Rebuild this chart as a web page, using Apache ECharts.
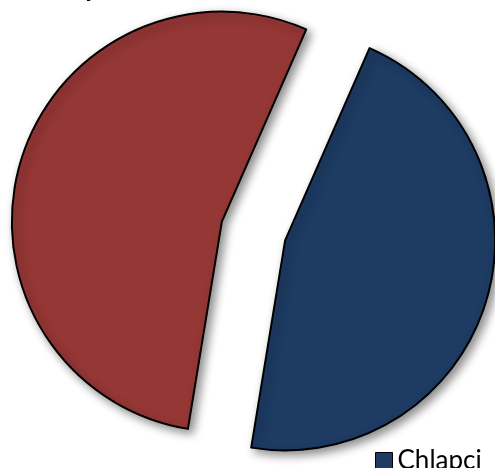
<!DOCTYPE html>
<html>
<head>
<meta charset="utf-8">
<script src="https://cdn.jsdelivr.net/npm/echarts@6/dist/echarts.min.js"></script>
<style>html,body{margin:0;padding:0;background:#fff;}#c{width:495px;height:468px;}</style>
</head>
<body>
<div id="c"></div>
<script>
const titleText = 'Chlapci a dívky';
const categories = ['Chlapci', 'Dívky'];
const values = [46, 54];
const colors = ['#1d3b63', '#953735'];

const chart = echarts.init(document.getElementById('c'), null, {renderer: 'canvas'});
chart.setOption({
  animation: false,
  backgroundColor: '#ffffff',
  title: {
    text: titleText,
    left: -94,
    top: -32,
    textStyle: {fontFamily: 'Lato', fontSize: 28, fontWeight: 'bold', color: '#000'}
  },
  legend: {
    data: ['Chlapci'],
    left: 370,
    top: 443,
    icon: 'rect',
    itemWidth: 17,
    itemHeight: 17,
    itemGap: 5,
    itemStyle: {borderColor: '#000', borderWidth: 1},
    textStyle: {fontFamily: 'Lato', fontSize: 26, color: '#000'},
    selectedMode: false
  },
  series: [{
    type: 'pie',
    center: [253.5, 231],
    radius: 210,
    startAngle: 66.3,
    clockwise: true,
    selectedMode: 'multiple',
    selectedOffset: 33,
    label: {show: false},
    labelLine: {show: false},
    emphasis: {disabled: true},
    itemStyle: {
      borderColor: '#000',
      borderWidth: 2,
      shadowBlur: 10,
      shadowOffsetX: 4,
      shadowOffsetY: 4,
      shadowColor: 'rgba(0,0,0,0.45)'
    },
    data: categories.map((c, i) => ({name: c, value: values[i], selected: true, itemStyle: {color: colors[i]}}))
  }]
});
</script>
</body>
</html>
